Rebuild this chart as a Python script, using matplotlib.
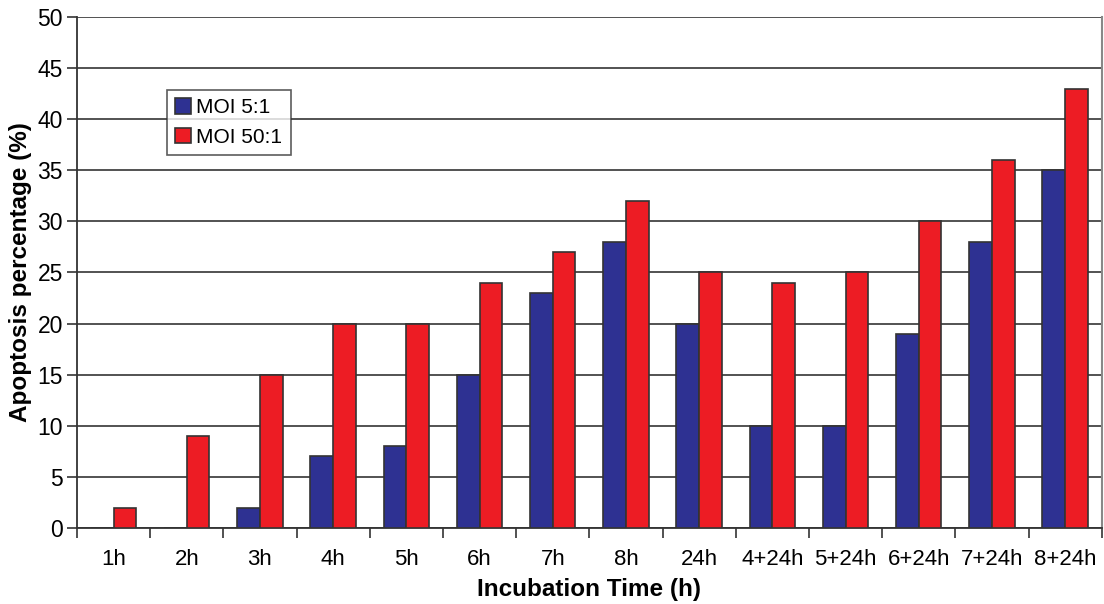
import matplotlib
matplotlib.use("Agg")
import matplotlib.pyplot as plt
import numpy as np

# data
labels = ['1h', '2h', '3h', '4h', '5h', '6h', '7h', '8h', '24h',
          '4+24h', '5+24h', '6+24h', '7+24h', '8+24h']
moi_5 = [0, 0, 2, 7, 8, 15, 23, 28, 20, 10, 10, 19, 28, 35]
moi_50 = [2, 9, 15, 20, 20, 24, 27, 32, 25, 24, 25, 30, 36, 43]

plt.rcParams['font.family'] = ['Liberation Sans', 'DejaVu Sans']

fig = plt.figure(figsize=(11.04, 6.04), dpi=100)
ax = fig.add_axes([0.0697, 0.1258, 0.9283, 0.8461])

x = np.arange(len(labels))
w = 0.31
ax.bar(x - w / 2, moi_5, w, color='#2E3192', edgecolor='#333333', linewidth=1.2,
       label='MOI 5:1', zorder=3)
ax.bar(x + w / 2, moi_50, w, color='#ED1C24', edgecolor='#333333', linewidth=1.2,
       label='MOI 50:1', zorder=3)

ax.set_xlim(-0.5, len(labels) - 0.5)
ax.set_ylim(0, 50)
ax.set_yticks(range(0, 51, 5))
ax.yaxis.grid(True, color='#444444', linewidth=1.3, zorder=0)
ax.tick_params(axis='y', labelsize=16.5, length=7, width=1.2, color='#333333', pad=3)

# category labels at centres, ticks on the boundaries
ax.set_xticks(x)
ax.set_xticklabels(labels, fontsize=16)
ax.tick_params(axis='x', which='major', length=0, pad=15)
ax.set_xticks(np.arange(-0.5, len(labels)), minor=True)
ax.tick_params(axis='x', which='minor', length=7, width=1.2, color='#333333')

for s in ['left', 'bottom']:
    ax.spines[s].set_color('#333333')
    ax.spines[s].set_linewidth(1.3)
ax.spines['top'].set_visible(False)
ax.spines['right'].set_color('#888888')
ax.spines['right'].set_linewidth(1.5)

ax.set_xlabel('Incubation Time (h)', fontsize=17.5, fontweight='bold', labelpad=6)
ax.set_ylabel('Apoptosis percentage (%)', fontsize=17.5, fontweight='bold', labelpad=4)

leg = ax.legend(loc='upper left', bbox_to_anchor=(0.088, 0.857), borderaxespad=0,
                fontsize=15, frameon=True, fancybox=False, edgecolor='#333333',
                handlelength=0.75, handleheight=0.75, handletextpad=0.25,
                borderpad=0.4, labelspacing=0.5)
leg.get_frame().set_linewidth(1.2)

fig.savefig('out.png', dpi=100)
